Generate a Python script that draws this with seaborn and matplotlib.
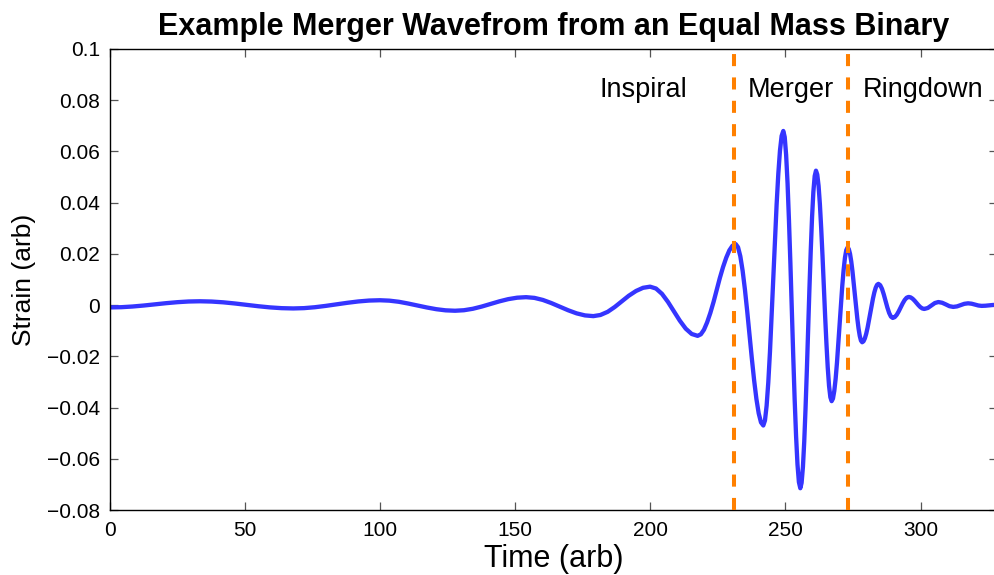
import matplotlib
matplotlib.use("Agg")
import matplotlib.pyplot as plt
import pandas as pd
import seaborn as sns

# Strain samples along the waveform, split by phase (time and strain in arbitrary units)
inspiral_time = [
    0.0, 4.2, 8.3, 12.5, 16.7, 20.8, 25.0, 29.1, 33.3,
    37.6, 41.9, 46.2, 50.6, 54.9, 59.2, 63.5, 67.8,
    71.8, 75.8, 79.8, 83.9, 87.9, 91.9, 95.9, 99.9,
    103.4, 106.9, 110.3, 113.8, 117.3, 120.8, 124.2, 127.7,
    131.0, 134.3, 137.6, 140.9, 144.1, 147.4, 150.7, 154.0,
    157.1, 160.2, 163.3, 166.5, 169.6, 172.7, 175.8, 178.9,
    181.5, 184.2, 186.8, 189.4, 192.0, 194.7, 197.3, 199.9,
    202.1, 204.3, 206.5, 208.7, 210.9, 213.1, 215.3, 217.5,
    218.7, 219.85, 221.0, 222.2, 223.4, 224.55, 225.7, 226.9, 228.1, 229.25, 230.4,
]
inspiral_strain = [
    -0.0009, -0.00081, -0.00055, -0.00016, 0.0003, 0.00076, 0.00115, 0.00141, 0.0015,
    0.00139, 0.00109, 0.00064, 0.0001, -0.00044, -0.00089, -0.00119, -0.0013,
    -0.00118, -0.00083, -0.00031, 0.0003, 0.00091, 0.00143, 0.00178, 0.0019,
    0.00174, 0.0013, 0.00063, -0.00015, -0.00093, -0.0016, -0.00204, -0.0022,
    -0.0020, -0.00143, -0.00056, 0.00045, 0.00146, 0.00233, 0.0029, 0.0031,
    0.00282, 0.00202, 0.00082, -0.0006, -0.00202, -0.00322, -0.00402, -0.0043,
    -0.00386, -0.00262, -0.00075, 0.00145, 0.00365, 0.00552, 0.00676, 0.0072,
    0.00647, 0.0044, 0.00127, -0.0024, -0.00607, -0.0092, -0.01127, -0.0120,
    -0.01139, -0.0096, -0.00676, -0.00305, 0.00127, 0.0059, 0.01053, 0.01485, 0.01856, 0.0214, 0.02319,
]

merger_time = [
    231.6,
    232.45, 233.3, 234.15, 235.0, 235.85, 236.7, 237.55, 238.4, 239.25, 240.1, 240.95, 241.8,
    242.42, 243.03, 243.65, 244.27, 244.88, 245.5, 246.12, 246.73, 247.35, 247.97, 248.58, 249.2,
    249.73, 250.25, 250.78, 251.3, 251.83, 252.35, 252.88, 253.4, 253.93, 254.45, 254.98, 255.5,
    255.98, 256.47, 256.95, 257.43, 257.92, 258.4, 258.88, 259.37, 259.85, 260.33, 260.82, 261.3,
    261.78, 262.27, 262.75, 263.23, 263.72, 264.2, 264.68, 265.17, 265.65, 266.13, 266.62, 267.1,
    267.59, 268.08, 268.58, 269.07, 269.56, 270.05, 270.54, 271.03, 271.53, 272.02, 272.51,
]
merger_strain = [
    0.0238,
    0.0226, 0.01906, 0.01343, 0.0061, -0.00244, -0.0116, -0.02076, -0.0293, -0.03663, -0.04226, -0.0458, -0.0470,
    -0.04504, -0.0393, -0.03016, -0.01825, -0.00438, 0.0105, 0.02538, 0.03925, 0.05116, 0.0603, 0.06605, 0.0680,
    0.06563, 0.05865, 0.04758, 0.03312, 0.0163, -0.00175, -0.0198, -0.03663, -0.05108, -0.06215, -0.06913, -0.0715,
    -0.06939, -0.06319, -0.05335, -0.0405, -0.02555, -0.0095, 0.00655, 0.0215, 0.03435, 0.04419, 0.05039, 0.0525,
    0.05097, 0.04647, 0.03932, 0.0300, 0.01915, 0.0075, -0.00415, -0.0150, -0.02432, -0.03147, -0.03597, -0.0375,
    -0.03648, -0.03348, -0.02872, -0.0225, -0.01526, -0.0075, 0.00026, 0.0075, 0.01372, 0.01848, 0.02148,
]

ringdown_time = [
    273.0,
    273.45, 273.9, 274.35, 274.8, 275.25, 275.7, 276.15, 276.6, 277.05, 277.5, 277.95, 278.4,
    278.9, 279.4, 279.9, 280.4, 280.9, 281.4, 281.9, 282.4, 282.9, 283.4, 283.9, 284.4,
    285.06, 285.73, 286.39, 287.05, 287.71, 288.38, 289.04, 289.7,
    290.44, 291.18, 291.91, 292.65, 293.39, 294.13, 294.86, 295.6,
    296.33, 297.05, 297.78, 298.5, 299.23, 299.95, 300.68, 301.4,
    302.7, 304.0, 305.3, 306.6,
    308.0, 309.4, 310.7, 312.1,
    313.5, 314.9, 316.2, 317.6,
    318.9, 320.1, 321.4, 322.6,
    324.0, 325.3, 326.7, 328.0,
]
ringdown_strain = [
    0.0225,
    0.02187, 0.02002, 0.01708, 0.01325, 0.00879, 0.0040, -0.00079, -0.00525, -0.00908, -0.01202, -0.01387, -0.0145,
    -0.01411, -0.01297, -0.01116, -0.0088, -0.00605, -0.0031, -0.00015, 0.0026, 0.00496, 0.00677, 0.00791, 0.0083,
    0.00779, 0.00636, 0.00419, 0.00165, -0.00089, -0.00306, -0.00449, -0.0050,
    -0.00469, -0.0038, -0.00247, -0.0009, 0.00067, 0.0020, 0.00289, 0.0032,
    0.00302, 0.00251, 0.00175, 0.00085, -0.00005, -0.00081, -0.00132, -0.0015,
    -0.00111, -0.00015, 0.00081, 0.0012,
    0.00092, 0.00025, -0.00042, -0.0007,
    -0.0005, 0.0, 0.0005, 0.0007,
    0.00055, 0.0002, -0.00015, -0.0003,
    -0.00024, -0.0001, 0.00004, 0.0001,
]

# Boundaries between the inspiral, merger and ringdown phases
phase_boundaries = [231.0, 273.0]
phase_names = ["Inspiral", "Merger", "Ringdown"]
phase_label_x = [181.3, 236.1, 278.5]
phase_label_y = 0.0814

x_ticks = [0, 50, 100, 150, 200, 250, 300]
y_ticks = [-0.08, -0.06, -0.04, -0.02, 0, 0.02, 0.04, 0.06, 0.08, 0.1]
y_tick_labels = ["\u22120.08", "\u22120.06", "\u22120.04", "\u22120.02", "0",
                 "0.02", "0.04", "0.06", "0.08", "0.1"]

sns.set_style("ticks")
plt.rcParams["font.family"] = ["Liberation Sans", "DejaVu Sans"]
plt.rcParams["text.color"] = "black"
plt.rcParams["axes.labelcolor"] = "black"
plt.rcParams["xtick.color"] = "#555555"
plt.rcParams["ytick.color"] = "#555555"

wave = pd.DataFrame({
    "time": inspiral_time + merger_time + ringdown_time,
    "strain": inspiral_strain + merger_strain + ringdown_strain,
})

fig = plt.figure(figsize=(9.95, 5.75), dpi=100)
ax = fig.add_axes([110 / 995, 1 - 510 / 575, 887 / 995, 461 / 575])

sns.lineplot(data=wave, x="time", y="strain", ax=ax, sort=False,
             color="#3535ff", linewidth=3.1, zorder=2)
ax.lines[-1].set_solid_joinstyle("round")
ax.lines[-1].set_solid_capstyle("round")

for xb in phase_boundaries:
    ax.axvline(xb, color="#ff8000", linewidth=2.9,
               linestyle=(0, (3.0, 2.8)), zorder=3)

for name, xl in zip(phase_names, phase_label_x):
    ax.text(xl, phase_label_y, name, fontsize=19.5, ha="left",
            va="baseline", color="black")

ax.set_xlim(0, 328.3)
ax.set_ylim(-0.08, 0.1)
ax.set_xticks(x_ticks)
ax.set_xticklabels([str(v) for v in x_ticks])
ax.set_yticks(y_ticks)
ax.set_yticklabels(y_tick_labels)

ax.tick_params(direction="in", length=6, width=0.9, color="#555555",
               labelsize=15, labelcolor="black",
               top=True, right=True, bottom=True, left=True)
ax.tick_params(axis="x", pad=8)
ax.tick_params(axis="y", pad=7)

for side in ["top", "right", "bottom", "left"]:
    ax.spines[side].set_visible(True)
    ax.spines[side].set_color("black")
    ax.spines[side].set_linewidth(1.0)

ax.set_xlabel("Time (arb)", fontsize=22, labelpad=3)
ax.set_ylabel("Strain (arb)", fontsize=19, labelpad=8)
ax.set_title("Example Merger Wavefrom from an Equal Mass Binary",
             fontsize=22, fontweight="bold", color="black", pad=10)

fig.savefig("out.png", dpi=100, facecolor="white")
